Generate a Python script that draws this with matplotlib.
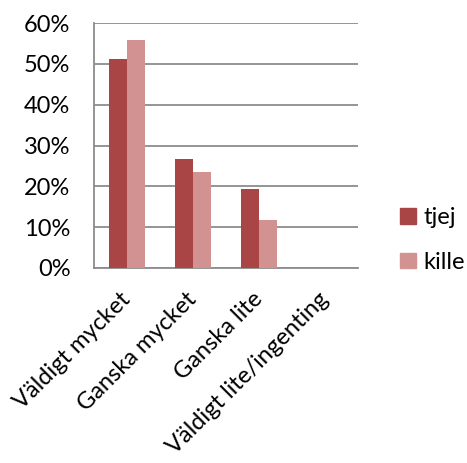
import matplotlib
matplotlib.use("Agg")
import matplotlib.pyplot as plt
import numpy as np
from matplotlib.patches import Patch

categories = ["Väldigt mycket", "Ganska mycket", "Ganska lite", "Väldigt lite/ingenting"]
tjej = [51.1, 26.8, 19.3, 0.0]
kille = [55.8, 23.4, 11.7, 0.0]
yticks = [0, 10, 20, 30, 40, 50, 60]
ytick_labels = ["0%", "10%", "20%", "30%", "40%", "50%", "60%"]

c_tjej = "#A94545"
c_kille = "#D39292"
grid_c = "#8C8C8C"

plt.rcParams['font.family'] = ['Lato', 'DejaVu Sans']
fig = plt.figure(figsize=(4.67, 4.63), dpi=100)
ax = fig.add_axes([94/467, 1-268/463, 264/467, 245/463])

x = np.arange(len(categories))
w = 0.28
ax.bar(x - w/2, tjej, w, color=c_tjej, zorder=3)
ax.bar(x + w/2, kille, w, color=c_kille, zorder=3)

ax.set_xlim(-0.5, len(categories) - 0.5)
ax.set_ylim(0, 60)
ax.set_yticks(yticks)
ax.set_yticklabels(ytick_labels, fontsize=17)
ax.set_xticks(x)
ax.set_xticklabels(categories, fontsize=17, rotation=45, ha='right',
                   rotation_mode='anchor', va='center')
ax.tick_params(axis='x', length=0, pad=20)
ax.tick_params(axis='y', length=0, pad=17)
ax.yaxis.grid(True, color=grid_c, linewidth=1.3, zorder=0)
for s in ['top', 'right']:
    ax.spines[s].set_visible(False)
for s in ['left', 'bottom']:
    ax.spines[s].set_color(grid_c)
    ax.spines[s].set_linewidth(1.3)

handles = [Patch(color=c_tjej, label='tjej'), Patch(color=c_kille, label='kille')]
fig.legend(handles=handles, loc='center left', bbox_to_anchor=(379/467, 1-240/463),
           frameon=False, fontsize=17, handlelength=0.65, handleheight=0.65,
           handletextpad=0.35, labelspacing=1.0)

fig.savefig("out.png", dpi=100)
